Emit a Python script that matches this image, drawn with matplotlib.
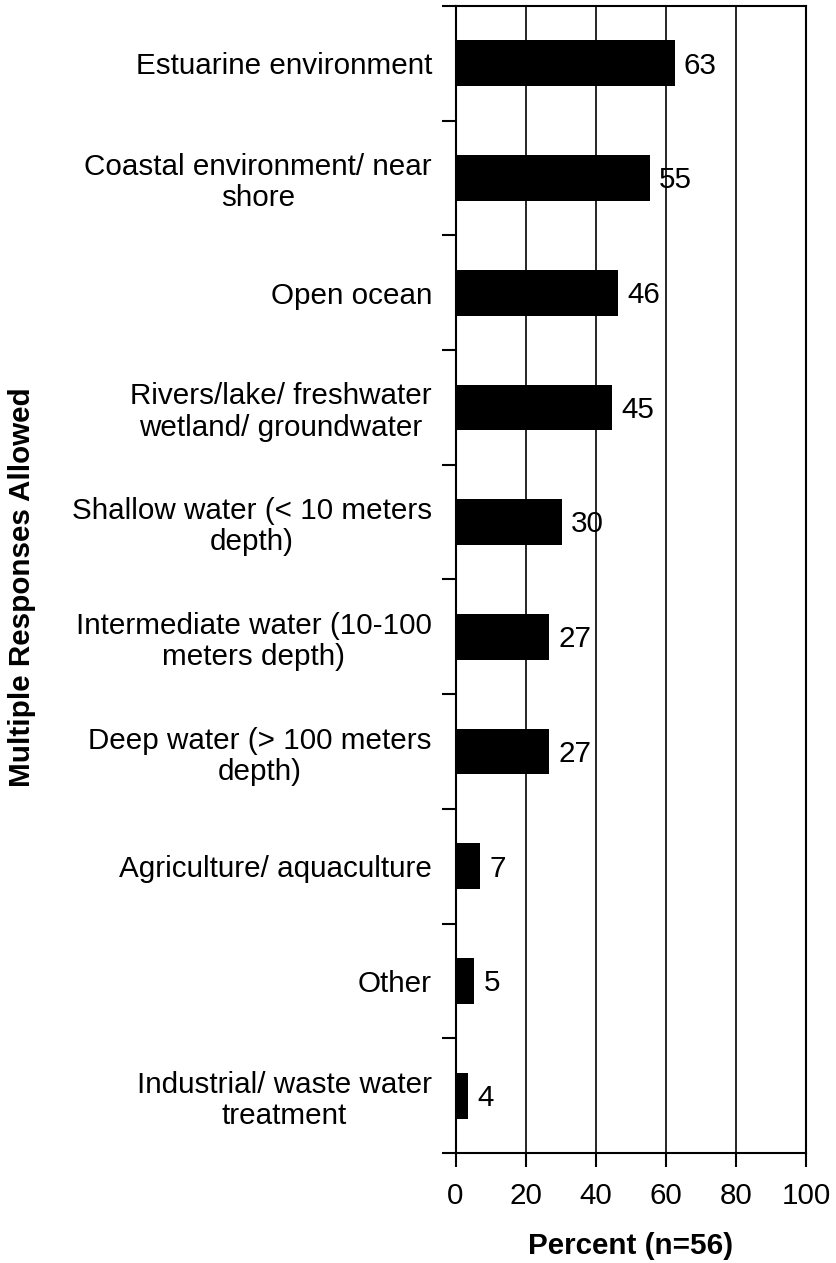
"""
Horizontal bar chart: environments (multiple responses allowed)
"""

from matplotlib import pyplot as plt
import numpy as np

categories = [
    "Estuarine environment",
    "Coastal environment/ near\nshore",
    "Open ocean",
    "Rivers/lake/ freshwater\nwetland/ groundwater",
    "Shallow water (< 10 meters\ndepth)",
    "Intermediate water (10-100\nmeters depth)",
    "Deep water (> 100 meters\ndepth)",
    "Agriculture/ aquaculture",
    "Other",
    "Industrial/ waste water\ntreatment",
]
percent = [62.5, 55.4, 46.4, 44.6, 30.4, 26.8, 26.8, 7.1, 5.4, 3.6]
value_labels = ["63", "55", "46", "45", "30", "27", "27", "7", "5", "4"]
x_ticks = [0, 20, 40, 60, 80, 100]

plt.rcParams['font.family'] = ['Liberation Sans', 'DejaVu Sans']
FS = 21.3

fig = plt.figure(figsize=(8.36, 12.63), dpi=100)
ax = fig.add_axes([455.5 / 836, 1 - 1153 / 1263, 350.5 / 836, 1147 / 1263])

n = len(categories)
y = np.arange(n)
ax.barh(y, percent, height=0.4, color='black', zorder=3)

for yi, v, lab in zip(y, percent, value_labels):
    ax.text(v + 2.6, yi + 0.02, lab, va='center', ha='left', fontsize=FS, zorder=4)

ax.set_xlim(0, 100)
ax.set_ylim(n - 0.5, -0.5)

ax.set_xticks(x_ticks)
ax.set_xticklabels([str(t) for t in x_ticks], fontsize=FS)
ax.tick_params(axis='x', direction='out', length=10, width=1.5, pad=11)

ax.set_yticks(y)
ax.set_yticklabels(categories, fontsize=FS, multialignment='center',
                   linespacing=1.15)
ax.tick_params(axis='y', which='major', length=0, pad=17)
ax.set_yticks(np.arange(n + 1) - 0.5, minor=True)
ax.tick_params(axis='y', which='minor', direction='out', length=10, width=1.5)

for t in x_ticks[1:-1]:
    ax.axvline(t, color='black', lw=1.2, zorder=1)

for s in ax.spines.values():
    s.set_linewidth(1.5)

ax.set_xlabel("Percent (n=56)", fontsize=FS, fontweight='bold', labelpad=16)
fig.text(22 / 836, 1 - 587 / 1263, "Multiple Responses Allowed", rotation=90,
         ha='center', va='center', fontsize=FS, fontweight='bold')

plt.savefig("out.png", dpi=100)
